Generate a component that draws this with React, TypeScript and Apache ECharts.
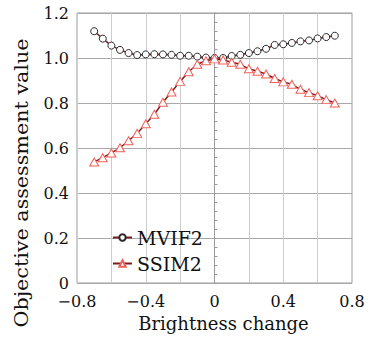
import React, { useEffect, useRef } from "react";
import * as echarts from "echarts";

const xValues = [
  -0.7, -0.65, -0.6, -0.55, -0.5, -0.45, -0.4, -0.35, -0.3, -0.25, -0.2, -0.15, -0.1, -0.05, 0,
  0.05, 0.1, 0.15, 0.2, 0.25, 0.3, 0.35, 0.4, 0.45, 0.5, 0.55, 0.6, 0.65, 0.7,
];
const mvif2 = [
  1.119, 1.086, 1.055, 1.036, 1.022, 1.013, 1.016, 1.017, 1.016, 1.014, 1.01, 1.01, 1.006, 1.002, 1.0,
  1.0, 1.009, 1.014, 1.022, 1.03, 1.041, 1.058, 1.061, 1.067, 1.074, 1.078, 1.087, 1.093, 1.099,
];
const ssim2 = [
  0.538, 0.557, 0.578, 0.601, 0.632, 0.665, 0.708, 0.75, 0.803, 0.849, 0.896, 0.939, 0.972, 0.988, 0.996,
  0.991, 0.981, 0.972, 0.952, 0.941, 0.929, 0.909, 0.894, 0.883, 0.861, 0.846, 0.832, 0.815, 0.8,
];
const seriesNames = ["MVIF2", "SSIM2"];
const xTitle = "Brightness change";
const yTitle = "Objective assessment value";

const FONT = "DejaVu Serif";

export default function App() {
  const ref = useRef<HTMLDivElement>(null);
  useEffect(() => {
    if (!ref.current) return;
    const chart = echarts.init(ref.current, null, { renderer: "svg" });
    const fmtX = (v: number) => {
      const r = Math.round(v * 10);
      if (r % 4 !== 0) return "";
      if (r === 0) return "0";
      return (r / 10).toFixed(1).replace("-", "\u2212");
    };
    const fmtY = (v: number) => (Math.abs(v) < 1e-9 ? "0" : v.toFixed(1));
    chart.setOption({
      animation: false,
      backgroundColor: "#fff",
      grid: {
        left: 77,
        right: 31,
        top: 13,
        bottom: 50,
        show: true,
        borderColor: "#9a9a9a",
        borderWidth: 1,
      },
      xAxis: {
        type: "value",
        min: -0.8,
        max: 0.8,
        interval: 0.2,
        axisLine: { show: false, onZero: false },
        axisTick: { show: false },
        splitLine: { show: true, lineStyle: { color: "#cccccc", width: 1 } },
        axisLabel: { formatter: fmtX, color: "#111", fontFamily: FONT, fontSize: 16, margin: 10 },
        name: xTitle,
        nameLocation: "middle",
        nameGap: 31,
        nameTextStyle: { color: "#111", fontFamily: FONT, fontSize: 18, padding: [0, 0, 0, 18] },
      },
      yAxis: [
        {
          type: "value",
          min: 0,
          max: 1.2,
          interval: 0.2,
          position: "left",
          axisLine: { show: false, onZero: false },
          axisTick: { show: false },
          splitLine: { show: true, lineStyle: { color: "#a8a8a8", width: 1 } },
          axisLabel: { formatter: fmtY, color: "#111", fontFamily: FONT, fontSize: 16, margin: 8 },
        },
        {
          type: "value",
          min: 0,
          max: 1.2,
          interval: 0.2,
          position: "left",
          axisLine: { show: true, onZero: true, lineStyle: { color: "#9a9a9a", width: 1 } },
          axisTick: { show: true, inside: true, length: 3, lineStyle: { color: "#9a9a9a" } },
          minorTick: { show: true, splitNumber: 5, length: 3, lineStyle: { color: "#9a9a9a" } },
          axisLabel: { show: false },
          splitLine: { show: false },
        },
      ],
      legend: {
        orient: "vertical",
        left: 107,
        top: 223,
        itemWidth: 19,
        itemHeight: 8,
        itemGap: 7,
        textStyle: { color: "#111", fontFamily: FONT, fontSize: 19, lineHeight: 19 },
        data: seriesNames,
      },
      series: [
        {
          name: seriesNames[0],
          type: "line",
          yAxisIndex: 0,
          data: xValues.map((x, i) => [x, mvif2[i]]),
          symbol: "circle",
          symbolSize: 7,
          lineStyle: { color: "#7a1c1c", width: 1.5 },
          itemStyle: { color: "#ffffff", borderColor: "#2a2a2a", borderWidth: 1 },
        },
        {
          name: seriesNames[1],
          type: "line",
          yAxisIndex: 0,
          data: xValues.map((x, i) => [x, ssim2[i]]),
          symbol: "triangle",
          symbolSize: [9, 8],
          lineStyle: { color: "#7a1c1c", width: 1.5 },
          itemStyle: { color: "#ffffff", borderColor: "#f0605a", borderWidth: 1 },
        },
      ],
      graphic: [
        {
          type: "text",
          x: 22,
          y: 183,
          rotation: Math.PI / 2,
          scaleX: 1.15,
          style: {
            text: yTitle,
            fontFamily: FONT,
            fontSize: 18,
            fill: "#111",
            align: "center",
            verticalAlign: "middle",
          },
        },
      ],
    });
    return () => chart.dispose();
  }, []);
  return (
    <div
      ref={ref}
      style={{ position: "fixed", left: 0, top: 0, width: 383, height: 337, background: "#fff" }}
    />
  );
}
